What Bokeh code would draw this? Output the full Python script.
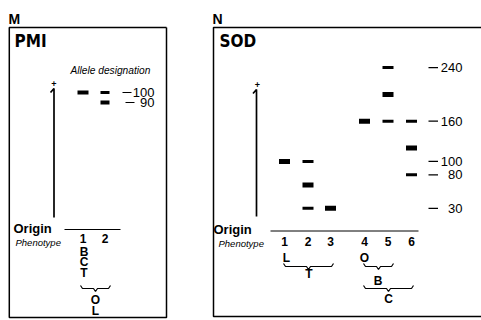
from bokeh.plotting import figure
from bokeh.models import Range1d, ColumnDataSource
from bokeh.core.properties import value
from bokeh.embed import file_html
from bokeh.resources import INLINE

# ---------------- data ----------------
pmi_alleles = [100, 90]
pmi_allele_labels = ["100", "90"]
pmi_phenotypes = ["1", "2"]
pmi_band_lane = [1, 2, 2]
pmi_band_mobility = [100, 100, 90]
pmi_band_strong = [1, 0, 1]
pmi_phenotype_letters = ["B", "C", "T"]

sod_alleles = [240, 160, 100, 80, 30]
sod_allele_labels = ["240", "160", "100", "80", "30"]
sod_phenotypes = ["1", "2", "3", "4", "5", "6"]
sod_band_lane = [1, 2, 2, 2, 3, 4, 5, 5, 5, 6, 6, 6]
sod_band_mobility = [100, 100, 65, 30, 30, 160, 240, 200, 160, 160, 120, 80]
sod_band_strong = [1, 0, 1, 0, 1, 1, 0, 1, 0, 0, 1, 0]

# ---------------- layout ----------------
SANS = value("Liberation Sans")
COND = value("DejaVu Sans Condensed")

p = figure(width=481, height=320, x_range=Range1d(0, 481), y_range=Range1d(320, 0),
           output_backend="svg", toolbar_location=None, min_border=0,
           x_axis_location=None, y_axis_location=None)
p.grid.visible = False
p.outline_line_color = None
p.background_fill_color = "white"
p.border_fill_color = "white"
# mobility scales (origin of SOD at y=228 px, 0.67 px per unit)
p.extra_y_ranges = {"pmi": Range1d(-128, 192), "sod": Range1d(-137.3, 340.1)}

pmi_lane_x = {1: 82.5, 2: 104.5}
sod_lane_x = {1: 284, 2: 307.5, 3: 330, 4: 364, 5: 387.5, 6: 411}

# panel frames
p.line([166, 8.8, 8.8, 166, 166], [27, 27, 317, 317, 27], line_color="black", line_width=1.5)
p.line([490, 213, 213, 490], [27, 27, 316, 316], line_color="black", line_width=1.5)

def txt(x, y, s, size, style="normal", align="left", font=SANS, color="black"):
    p.text(x=[x], y=[y], text=[s], text_font=font, text_font_size=f"{size}px",
           text_font_style=style, text_align=align, text_baseline="middle", text_color=color)

txt(8, 18, "M", 14, "bold")
txt(212, 18, "N", 14, "bold")
txt(14, 40, "PMI", 17, "bold", font=COND)
txt(219, 40, "SOD", 17, "bold", font=COND)
txt(70, 70, "Allele designation", 10.2, "italic")

# origin arrows
for ax, top, bot in [(53.5, 88, 217), (256, 89, 216)]:
    p.line([ax - 3.5, ax, ax], [top + 4, top, bot], line_color="black", line_width=1.7)
txt(53.5, 83, "+", 9, "bold", align="center")
txt(257, 84, "+", 9, "bold", align="center")

# origin lines and labels
p.line([64, 120], [229, 229], line_color="black", line_width=1)
p.line([270, 418], [230.5, 230.5], line_color="black", line_width=1)
txt(13, 228, "Origin", 13, "bold")
txt(213, 229, "Origin", 13, "bold")
txt(15, 242, "Phenotype", 9.5, "italic")
txt(218, 242.5, "Phenotype", 9.5, "italic")

# ---------------- PMI bands ----------------
src = ColumnDataSource(dict(
    x=[pmi_lane_x[l] for l in pmi_band_lane],
    y=pmi_band_mobility,
    w=[11 if l == 1 else 9 for l in pmi_band_lane],
    h=[4 if s else 3 for s in pmi_band_strong],
))
p.rect(x="x", y="y", width="w", height="h", height_units="screen", source=src,
       y_range_name="pmi", fill_color="black", line_color=None)
for a, lab in zip(pmi_alleles, pmi_allele_labels):
    x0 = 122 if len(lab) == 3 else 125
    p.line([x0, x0 + 9], [a, a], line_color="black", line_width=1.2, y_range_name="pmi")
    p.text(x=[154], y=[a], text=[lab], y_range_name="pmi", text_font=SANS,
           text_font_size="13px", text_align="right", text_baseline="middle")
for i, ph in enumerate(pmi_phenotypes):
    txt(pmi_lane_x[i + 1], 237.5, ph, 12, "bold", align="center")
for i, ch in enumerate(pmi_phenotype_letters):
    txt(83.5, 251 + i * 10.5, ch, 12, "bold", align="center")

# ---------------- SOD bands ----------------
src2 = ColumnDataSource(dict(
    x=[sod_lane_x[l] for l in sod_band_lane],
    y=sod_band_mobility,
    h=[5 if s else 3 for s in sod_band_strong],
))
p.rect(x="x", y="y", width=11, height="h", height_units="screen", source=src2,
       y_range_name="sod", fill_color="black", line_color=None)
for a, lab in zip(sod_alleles, sod_allele_labels):
    p.line([428, 437.5], [a, a], line_color="black", line_width=1.2, y_range_name="sod")
    p.text(x=[462], y=[a], text=[lab], y_range_name="sod", text_font=SANS,
           text_font_size="13px", text_align="right", text_baseline="middle")
for i, ph in enumerate(sod_phenotypes):
    txt(sod_lane_x[i + 1], 241, ph, 12, "bold", align="center")

# ---------------- braces ----------------
def brace(x0, x1, y0, d=3):
    xm = (x0 + x1) / 2
    p.line([x0, x0 + 2, xm - 2, xm, xm + 2, x1 - 2, x1],
           [y0, y0 + d, y0 + d, y0 + 2 * d, y0 + d, y0 + d, y0],
           line_color="black", line_width=1.2)

brace(80, 110, 285)
txt(95, 299, "O", 12, "bold", align="center")
txt(95, 310, "L", 12, "bold", align="center")

txt(286, 257, "L", 12, "bold", align="center")
brace(283, 333, 263)
txt(308.5, 273, "T", 12, "bold", align="center")
txt(364, 257, "O", 12, "bold", align="center")
brace(363, 393, 263)
txt(377.5, 280, "B", 12, "bold", align="center")
brace(363, 413, 285)
txt(388, 298, "C", 12, "bold", align="center")

open("out.html", "w").write(file_html(p, INLINE))
